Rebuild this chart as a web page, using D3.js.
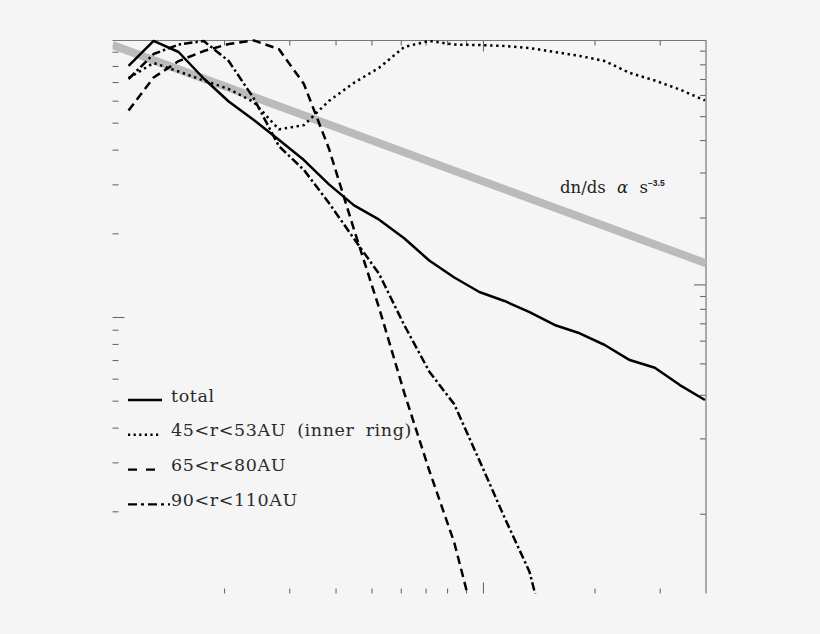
<!DOCTYPE html>
<html>
<head>
<meta charset="utf-8">
<script src="https://cdn.jsdelivr.net/npm/d3@7"></script>
<style>
html,body{margin:0;padding:0;background:#f5f5f5;}
svg{display:block;}
</style>
</head>
<body>
<div id="chart"></div>
<script>
// size grid (log spaced), shared by all curves
var sizes = [1.105,1.291,1.508,1.763,2.059,2.407,2.812,3.286,3.840,4.488,5.246,6.128,
             7.160,8.368,9.779,11.43,13.36,15.61,18.24,21.32,24.90,29.10,34.01,39.74];
var total = [80.0,98.4,89.8,72.1,59.6,51.1,43.4,36.7,30.0,25.2,22.4,19.2,
             15.97,13.87,12.30,11.42,10.42,9.36,8.74,7.93,7.00,6.57,5.69,5.03];
var innerRing = [72.4,82.0,76.4,70.9,66.1,59.3,47.3,49.0,59.9,69.6,78.8,93.6,
                 98.4,95.5,95.1,94.4,92.8,89.8,86.9,83.3,75.5,70.9,65.8,60.1];
var midRing = [55.3,72.7,83.3,90.5,95.9,98.8,92.0,68.9,40.3,20.6,10.76,5.35,2.81,1.542,0.689];
var outerRing = [71.8,88.3,95.5,98.4,83.3,61.1,41.2,33.8,25.7,19.1,14.28,9.36,6.37,4.85,3.05,1.902,1.210,0.537];
// reference power law
var refX = [1,40];
var refY = [95.1,15.6];
// ticks (no tick labels in the figure)
var xMinorTicks = [2,3,4,5,6,7,8,9,20,30];
var xMajorTicks = [10];
var yMinorTicks = [2,3,4,5,6,7,8,9,20,30,40,50,60,70,80,90];
var yMajorTicks = [10];
var rightMinorTicks = [90.8,81.1,71.8,62.9,52.8,43.3,33.1,22.8,11.9,10.7,9.49,8.22,6.81,5.25,3.66,1.96];
var rightMajorTicks = [13.1];
var legendLabels = ["total","45<r<53AU (inner ring)","65<r<80AU","90<r<110AU"];

var W = 820, H = 634;
var pLeft = 112.5, pRight = 706, pTop = 40.5, pBottom = 593.5;

var svg = d3.select("#chart").append("svg")
    .attr("width", W).attr("height", H);
svg.append("rect").attr("width", W).attr("height", H).attr("fill", "#f5f5f5");

var x = d3.scaleLog().domain([1, 40]).range([pLeft, pRight]);
var y = d3.scaleLog().domain([1, 100]).range([595, 39]);

svg.append("defs").append("clipPath").attr("id", "plot")
    .append("rect").attr("x", pLeft).attr("y", pTop - 1.5)
    .attr("width", pRight - pLeft).attr("height", pBottom - pTop + 1.5);

// axes: ticks point inwards, only top and right frame lines
function tickAxis(axis, vals, len, tx, ty) {
    var g = svg.append("g")
        .attr("transform", "translate(" + tx + "," + ty + ")")
        .call(axis.tickValues(vals).tickSize(-len).tickSizeOuter(0).tickFormat(""));
    g.select(".domain").remove();
    g.selectAll(".tick line").attr("stroke", "#6a6a6a").attr("stroke-width", 1.1);
    return g;
}
tickAxis(d3.axisBottom(x), xMinorTicks, 5, 0, pBottom);
tickAxis(d3.axisBottom(x), xMajorTicks, 11, 0, pBottom);
tickAxis(d3.axisTop(x), xMinorTicks, 5, 0, pTop);
tickAxis(d3.axisTop(x), xMajorTicks, 11, 0, pTop);
tickAxis(d3.axisLeft(y), yMinorTicks, 6, pLeft, 0);
tickAxis(d3.axisLeft(y), yMajorTicks, 12, pLeft, 0);
tickAxis(d3.axisRight(y), rightMinorTicks, 6, pRight, 0);
tickAxis(d3.axisRight(y), rightMajorTicks, 12, pRight, 0);

svg.append("path")
    .attr("d", "M" + pLeft + "," + pTop + "H" + pRight + "V" + pBottom)
    .attr("fill", "none").attr("stroke", "#777").attr("stroke-width", 1.2);

var plot = svg.append("g").attr("clip-path", "url(#plot)");

// grey s^-3.5 reference
plot.append("path")
    .datum(refX.map(function (d, i) { return [d, refY[i]]; }))
    .attr("fill", "none").attr("stroke", "#bbbbbb").attr("stroke-width", 8)
    .attr("d", d3.line().x(function (d) { return x(d[0]); }).y(function (d) { return y(d[1]); }));

var series = [
    { vals: total, dash: null },
    { vals: innerRing, dash: "2.4,3.6" },
    { vals: midRing, dash: "8.5,5" },
    { vals: outerRing, dash: "8.5,3,2.4,3" }
];
var line = d3.line()
    .x(function (d) { return x(d[0]); })
    .y(function (d) { return y(d[1]); });
series.forEach(function (s) {
    plot.append("path")
        .datum(s.vals.map(function (v, i) { return [sizes[i], v]; }))
        .attr("fill", "none").attr("stroke", "#000")
        .attr("stroke-width", 2.5)
        .attr("stroke-linejoin", "round")
        .attr("stroke-dasharray", s.dash)
        .attr("d", line);
});

// annotation
var ann = svg.append("text")
    .attr("x", 560).attr("y", 193)
    .attr("font-family", "DejaVu Serif").attr("font-size", 16.5)
    .attr("word-spacing", 6)
    .attr("fill", "#222");
ann.append("tspan").text("dn/ds ");
ann.append("tspan").attr("font-style", "italic").text("\u03b1");
ann.append("tspan").text(" s");
ann.append("tspan").attr("font-family", "Liberation Sans").attr("font-weight", "bold")
    .attr("font-size", 8.5).attr("dy", -7).text("\u2212" + "3.5");

// legend
var legDash = [null, "2.2,3.4", "9,9", "9,4,3,4"];
var legEnd = [162, 161, 155, 170];
legendLabels.forEach(function (lab, i) {
    var ly = 400 + i * 34.8;
    svg.append("line")
        .attr("x1", 128).attr("x2", legEnd[i]).attr("y1", ly).attr("y2", ly)
        .attr("stroke", "#000").attr("stroke-width", i == 0 ? 2.6 : 2.4)
        .attr("stroke-dasharray", legDash[i]);
    svg.append("text")
        .attr("x", 171).attr("y", ly + 1.5)
        .attr("font-family", "DejaVu Serif").attr("font-size", 17.5)
        .attr("letter-spacing", 0.6).attr("word-spacing", 5)
        .attr("fill", "#2a2a2a")
        .text(lab);
});
</script>
</body>
</html>
